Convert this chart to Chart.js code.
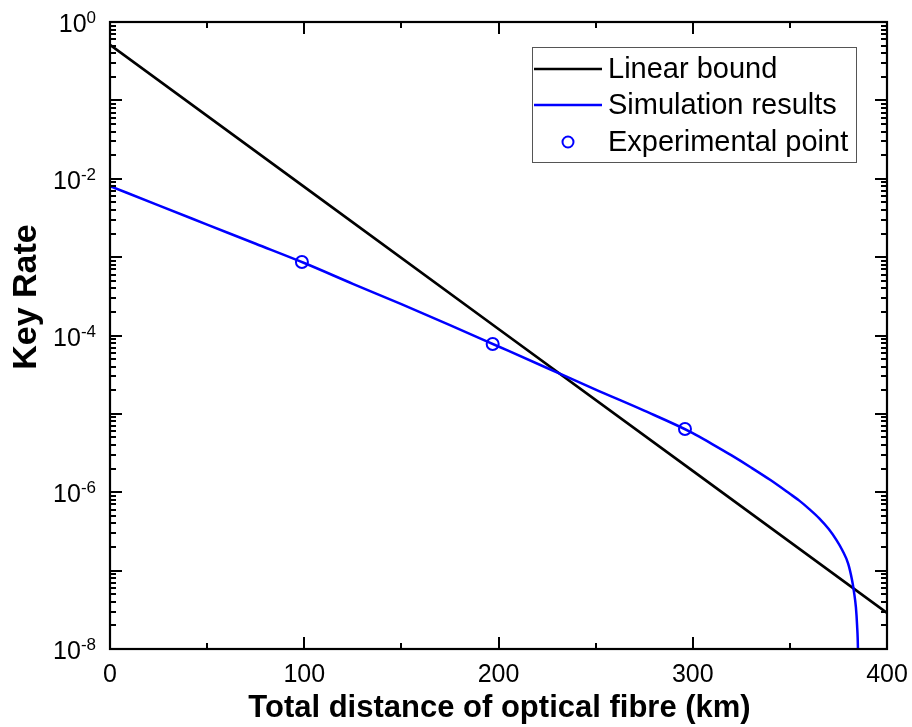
<!DOCTYPE html>
<html>
<head>
<meta charset="utf-8">
<script src="https://cdn.jsdelivr.net/npm/chart.js@4.4.0/dist/chart.umd.min.js"></script>
<style>
  html, body { margin: 0; padding: 0; background: #ffffff; }
  #wrap { width: 912px; height: 727px; }
</style>
</head>
<body>
<div id="wrap"><canvas id="c" width="912" height="727"></canvas></div>
<script>
// ---------- data ----------
const boundX = [0, 100, 200, 300, 400];
const boundY = [0.51, 7.87e-3, 1.21e-4, 1.87e-6, 2.88e-8];

const simX = [0, 25, 50, 75, 100, 125, 150, 175, 200, 225, 250, 275, 300, 310, 320, 330, 340, 350, 355, 360, 365, 370, 374, 377, 380, 382, 383, 384, 384.6, 385.05, 385.3];
const simY = [8.07e-3, 4.57e-3, 2.60e-3, 1.48e-3, 8.41e-4, 4.57e-4, 2.51e-4, 1.36e-4, 7.24e-5, 3.85e-5, 2.04e-5, 1.10e-5, 5.69e-6, 4.12e-6, 2.95e-6, 2.07e-6, 1.43e-6, 9.55e-7, 7.76e-7, 6.10e-7, 4.68e-7, 3.39e-7, 2.45e-7, 1.82e-7, 1.23e-7, 7.59e-8, 5.37e-8, 3.39e-8, 2.0e-8, 1.0e-8, 3.2e-9];

const expX = [98.8, 197, 296];
const expY = [8.67e-4, 7.8e-5, 6.41e-6];

const xTicks = [0, 100, 200, 300, 400];
const xMinorTicks = [50, 150, 250, 350];
const yExponents = [0, -1, -2, -3, -4, -5, -6, -7, -8];
const yLabelExponents = [0, -2, -4, -6, -8];

const seriesNames = ['Linear bound', 'Simulation results', 'Experimental point'];
const xTitle = 'Total distance of optical fibre (km)';
const yTitle = 'Key Rate';

const BLUE = '#0000ff';
const FONT = '"Liberation Sans", Arial, Helvetica, sans-serif';

function pts(xs, ys) { return xs.map((x, i) => ({ x: x, y: ys[i] })); }

// ---------- decorations plugin ----------
const decor = {
  id: 'decor',
  afterDraw(chart) {
    const ctx = chart.ctx;
    const xs = chart.scales.x, ys = chart.scales.y;
    const a = chart.chartArea;
    ctx.save();
    ctx.strokeStyle = '#000';
    ctx.fillStyle = '#000';
    ctx.lineWidth = 2;

    // ticks
    const major = 12, minor = 6;
    ctx.beginPath();
    xTicks.forEach(v => {
      const px = Math.round(xs.getPixelForValue(v));
      ctx.moveTo(px, a.bottom); ctx.lineTo(px, a.bottom - major);
      ctx.moveTo(px, a.top); ctx.lineTo(px, a.top + major);
    });
    xMinorTicks.forEach(v => {
      const px = Math.round(xs.getPixelForValue(v));
      ctx.moveTo(px, a.bottom); ctx.lineTo(px, a.bottom - minor);
      ctx.moveTo(px, a.top); ctx.lineTo(px, a.top + minor);
    });
    yExponents.forEach(e => {
      const py = Math.round(ys.getPixelForValue(Math.pow(10, e)));
      ctx.moveTo(a.left, py); ctx.lineTo(a.left + major, py);
      ctx.moveTo(a.right, py); ctx.lineTo(a.right - major, py);
      if (e < 0) {
        for (let m = 2; m <= 9; m++) {
          const pm = Math.round(ys.getPixelForValue(m * Math.pow(10, e))) ;
          ctx.moveTo(a.left, pm); ctx.lineTo(a.left + minor, pm);
          ctx.moveTo(a.right, pm); ctx.lineTo(a.right - minor, pm);
        }
      }
    });
    ctx.stroke();

    // frame
    ctx.lineWidth = 2.2;
    ctx.strokeRect(a.left, a.top, a.right - a.left, a.bottom - a.top);

    // x tick labels
    ctx.font = '25px ' + FONT;
    ctx.textAlign = 'center';
    ctx.textBaseline = 'alphabetic';
    xTicks.forEach(v => {
      ctx.fillText(String(v), xs.getPixelForValue(v), a.bottom + 33);
    });

    // y tick labels 10^n
    const rightEdge = a.left - 14;
    yLabelExponents.forEach(e => {
      const py = ys.getPixelForValue(Math.pow(10, e));
      const expStr = e === 0 ? '0' : '-' + String(-e);
      ctx.font = '17px ' + FONT;
      const wExp = ctx.measureText(expStr).width;
      ctx.font = '25px ' + FONT;
      const wBase = ctx.measureText('10').width;
      ctx.textAlign = 'left';
      ctx.fillText('10', rightEdge - wExp - wBase, py + 10);
      ctx.font = '17px ' + FONT;
      ctx.fillText(expStr, rightEdge - wExp, py + 1);
    });

    // axis titles
    ctx.font = 'bold 31px ' + FONT;
    ctx.textAlign = 'center';
    ctx.fillText(xTitle, (a.left + a.right) / 2 + 1, 717);
    ctx.save();
    ctx.translate(36, 297);
    ctx.rotate(-Math.PI / 2);
    ctx.font = 'bold 34px ' + FONT;
    ctx.fillText(yTitle, 0, 0);
    ctx.restore();

    // legend
    const lx = 532, ly = 47, lw = 324, lh = 115;
    ctx.fillStyle = '#fff';
    ctx.fillRect(lx, ly, lw, lh);
    ctx.strokeStyle = '#555';
    ctx.lineWidth = 1;
    ctx.strokeRect(lx + 0.5, ly + 0.5, lw, lh);
    const rows = [69, 105, 142];
    ctx.lineWidth = 2.5;
    ctx.strokeStyle = '#000';
    ctx.beginPath(); ctx.moveTo(534, rows[0]); ctx.lineTo(602, rows[0]); ctx.stroke();
    ctx.strokeStyle = BLUE;
    ctx.beginPath(); ctx.moveTo(534, rows[1]); ctx.lineTo(602, rows[1]); ctx.stroke();
    ctx.lineWidth = 2;
    ctx.beginPath(); ctx.arc(568, rows[2], 5.5, 0, Math.PI * 2); ctx.stroke();
    ctx.fillStyle = '#000';
    ctx.font = '29px ' + FONT;
    ctx.textAlign = 'left';
    seriesNames.forEach((n, i) => ctx.fillText(n, 608, rows[i] + 9));
    ctx.restore();
  }
};

new Chart(document.getElementById('c'), {
  type: 'scatter',
  data: {
    datasets: [
      {
        label: seriesNames[2], data: pts(expX, expY), showLine: false,
        pointRadius: 6, pointHoverRadius: 6, pointStyle: 'circle',
        pointBackgroundColor: 'rgba(0,0,0,0)', pointBorderColor: BLUE, pointBorderWidth: 2
      },
      {
        label: seriesNames[1], data: pts(simX, simY), showLine: true,
        borderColor: BLUE, borderWidth: 2.5, pointRadius: 0, fill: false,
        cubicInterpolationMode: 'monotone', clip: 0
      },
      {
        label: seriesNames[0], data: pts(boundX, boundY), showLine: true,
        borderColor: '#000', borderWidth: 2.7, pointRadius: 0, fill: false, tension: 0, clip: 0
      }
    ]
  },
  options: {
    responsive: false,
    animation: false,
    devicePixelRatio: 1,
    layout: { padding: { left: 110, top: 22, right: 25, bottom: 78 } },
    plugins: { legend: { display: false }, tooltip: { enabled: false }, title: { display: false } },
    events: [],
    scales: {
      x: { type: 'linear', min: 0, max: 400, display: false },
      y: { type: 'logarithmic', min: 1e-8, max: 1, display: false }
    }
  },
  plugins: [decor]
});
</script>
</body>
</html>
